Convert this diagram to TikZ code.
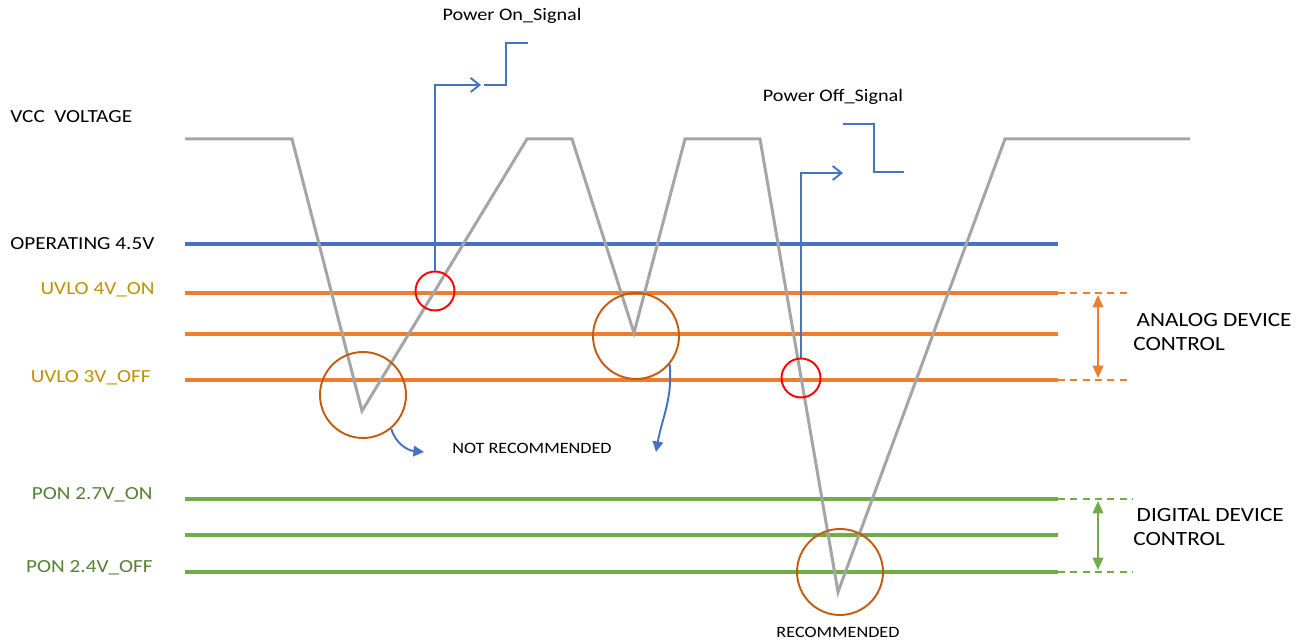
\documentclass[tikz,border=0pt]{standalone}
\usepackage{fontspec}
\setmainfont{Carlito}[FakeStretch=1.15]
\usetikzlibrary{arrows.meta}
\definecolor{vccgray}{HTML}{A5A5A5}
\definecolor{sigblue}{HTML}{4472C4}
\definecolor{uvloorange}{HTML}{ED7D31}
\definecolor{pongreen}{HTML}{70AD47}
\definecolor{ringbrown}{HTML}{C55A11}
\definecolor{uvlotext}{HTML}{BF9000}
\definecolor{pontext}{HTML}{538135}

\begin{document}
\begin{tikzpicture}[x=0.02cm,y=-0.02cm]
      \tikzstyle{every node}+=[inner sep=0pt]
      \tikzstyle{lvl}=[line width=2.2pt]
      \tikzstyle{ext}=[line width=0.9pt,dashed,dash pattern=on 4pt off 3pt]
      \tikzstyle{sig}=[sigblue,line width=1.1pt]
      \tikzstyle{ring}=[circle,draw=ringbrown,line width=1.1pt,minimum size=1.72cm]
      \tikzstyle{hit}=[circle,draw=red,line width=1.1pt,minimum size=0.78cm]
      \tikzstyle{lab}=[font=\fontsize{10.5}{12}\selectfont]
      \useasboundingbox (0,0) rectangle (1304,644);
      % level labels
      \node [lab,anchor=west] (vcc) at (10,117) {VCC\ \ VOLTAGE};
      \node [lab,anchor=west] (oplab) at (10,244) {OPERATING 4.5V};
      \node [lab,anchor=east,text=uvlotext] (uonlab) at (155,290) {UVLO 4V\_ON};
      \node [lab,anchor=east,text=uvlotext] (uofflab) at (151,378) {UVLO 3V\_OFF};
      \node [lab,anchor=east,text=pontext] (ponlab) at (153,495) {PON 2.7V\_ON};
      \node [lab,anchor=east,text=pontext] (pofflab) at (153,568) {PON 2.4V\_OFF};
      % levels
      \draw [lvl,sigblue] (185,244) -- (1058,244);
      \foreach \y/\n in {293/uon,334/umid,380/uoff}
        \draw [lvl,uvloorange] (185,\y) coordinate (\n-l) -- (1058,\y) coordinate (\n-r);
      \foreach \y/\n in {499/pon,535/pmid,572/poff}
        \draw [lvl,pongreen] (185,\y) coordinate (\n-l) -- (1058,\y) coordinate (\n-r);
      \draw [ext,uvloorange] (uon-r) -- (1128,293);
      \draw [ext,uvloorange] (uoff-r) -- (1128,380);
      \draw [ext,pongreen] (pon-r) -- (1132,499);
      \draw [ext,pongreen] (poff-r) -- (1132,572);
      \draw [uvloorange,line width=1.2pt,{Triangle[length=7pt,width=6pt]}-{Triangle[length=7pt,width=6pt]}] (1098,295) -- (1098,378);
      \draw [pongreen,line width=1.2pt,{Triangle[length=7pt,width=6pt]}-{Triangle[length=7pt,width=6pt]}] (1098,501) -- (1098,570);
      \node [anchor=west,align=left,font=\fontsize{11.5}{13.6}\selectfont] (analog) at (1133,332) {\,ANALOG DEVICE\\CONTROL};
      \node [anchor=west,align=left,font=\fontsize{11.5}{13.6}\selectfont] (digital) at (1133,527) {\,DIGITAL DEVICE\\CONTROL};
      % vcc trace
      \draw [vccgray,line width=1.7pt,line join=miter]
        (185,139) -- (292,139) -- (362,411) -- (527,139) -- (572,139) -- (634,333)
        -- (685,139) -- (760,139) -- (838,592) -- (1005,139) -- (1190,139);
      % marks
      \node [hit] (ronx) at (435,291) {};
      \node [hit] (roffx) at (801,378) {};
      \node [ring] (ring1) at (363,395) {};
      \node [ring] (ring2) at (636,336) {};
      \node [ring] (ring3) at (840,572) {};
      % power on signal
      \coordinate (onarr) at (481,85);
      \draw [sig,-{Straight Barb[length=5pt,width=8pt]}] (ronx.north) |- (onarr);
      \draw [sig] (484,85) -- (506,85) -- (506,43) -- (528,43);
      \node [font=\fontsize{10}{12}\selectfont] (ontxt) at (512,16) {Power On\_Signal};
      % power off signal
      \coordinate (offarr) at (843,173);
      \draw [sig,-{Straight Barb[length=5pt,width=8pt]}] (roffx.north) |- (offarr);
      \draw [sig] (843,124) -- (874,124) -- (874,172) -- (904,172);
      \node [font=\fontsize{10}{12}\selectfont] (offtxt) at (833,97) {Power Off\_Signal};
      % notes
      \node [font=\fontsize{9}{11}\selectfont] (notrec) at (532,448) {NOT RECOMMENDED};
      \node [font=\fontsize{9}{11}\selectfont] (rec) at (838,632) {RECOMMENDED};
      \draw [sig,-{Triangle[length=6pt,width=6pt]}] (ring1.-50) to[out=-75,in=175] (424,452);
      \draw [sig,-{Triangle[length=6pt,width=6pt]}] (ring2.-40) to[out=-85,in=80] (656,452);
\end{tikzpicture}
\end{document}
